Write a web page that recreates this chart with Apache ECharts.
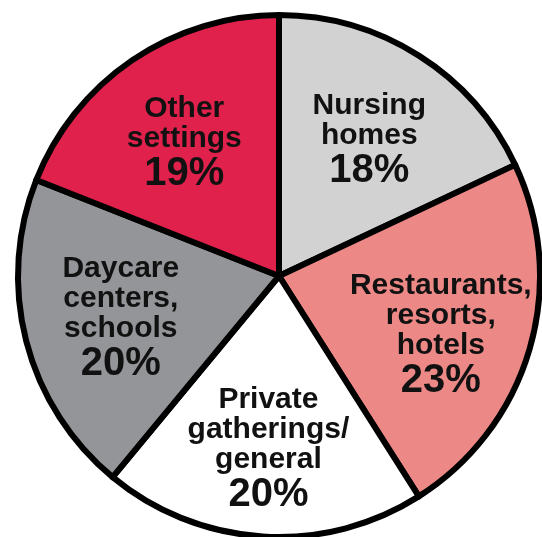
<!DOCTYPE html>
<html>
<head>
<meta charset="utf-8">
<script src="https://cdn.jsdelivr.net/npm/echarts@6/dist/echarts.min.js"></script>
<style>
html,body{margin:0;padding:0;background:#fff;}
#chart{width:542px;height:537px;}
</style>
</head>
<body>
<div id="chart"></div>
<script>
const categories = ['Nursing\nhomes', 'Restaurants,\nresorts,\nhotels', 'Private\ngatherings/\ngeneral', 'Daycare\ncenters,\nschools', 'Other\nsettings'];
const shares = [18, 23, 20, 20, 19];
const sliceColors = ['#d1d2d1', '#ec8986', '#ffffff', '#939598', '#e0214c'];
const labelPadding = [[14,0,0,0], [26,0,0,0], [12,0,0,0], [2,0,0,10], [14,0,0,0]];

const chart = echarts.init(document.getElementById('chart'), null, {renderer: 'canvas'});
const font = '"Liberation Sans", Arial, Helvetica, sans-serif';

const pieData = categories.map((c, i) => ({
  name: c,
  value: shares[i],
  itemStyle: {color: sliceColors[i]}
}));
const labelData = categories.map((c, i) => ({
  name: c,
  value: shares[i],
  label: {padding: labelPadding[i]}
}));

chart.setOption({
  animation: false,
  series: [
    {
      type: 'pie',
      center: [279, 276],
      radius: [0, 261],
      startAngle: 90,
      clockwise: true,
      silent: true,
      label: {show: false},
      labelLine: {show: false},
      itemStyle: {borderColor: '#000', borderWidth: 6},
      data: pieData
    },
    {
      type: 'pie',
      center: [279, 276],
      radius: [70, 261],
      startAngle: 90,
      clockwise: true,
      silent: true,
      itemStyle: {color: 'rgba(0,0,0,0)', borderWidth: 0},
      labelLine: {show: false},
      label: {
        show: true,
        position: 'inside',
        formatter: function (p) {
          const lines = p.name.split('\n').map(s => '{n|' + s + '}');
          return lines.join('\n') + '\n{p|' + p.value + '%}';
        },
        rich: {
          n: {fontFamily: font, fontWeight: 'bold', fontSize: 30, lineHeight: 30, color: '#111', align: 'center'},
          p: {fontFamily: font, fontWeight: 'bold', fontSize: 40, lineHeight: 40, color: '#111', align: 'center'}
        }
      },
      data: labelData
    }
  ]
});
</script>
</body>
</html>
